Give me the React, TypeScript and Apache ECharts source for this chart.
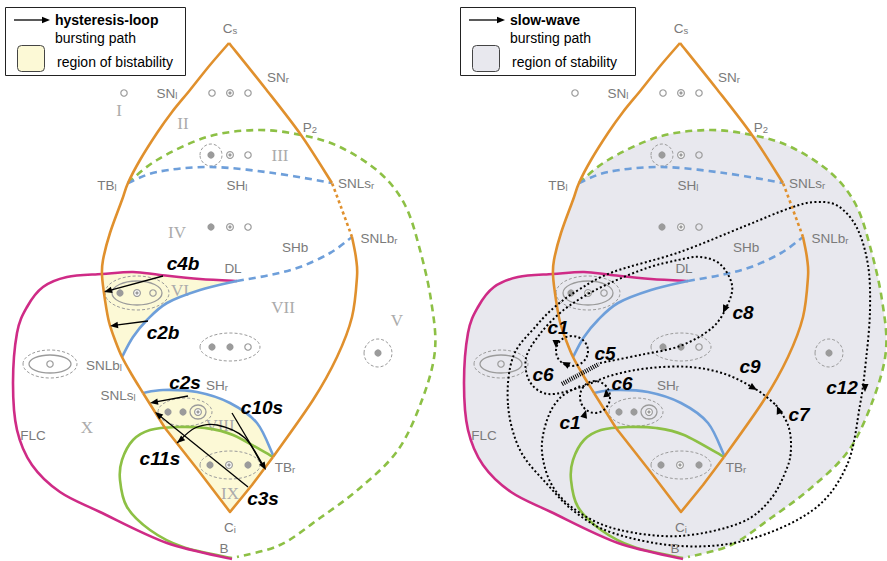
import React, { useEffect, useRef } from "react";
import * as echarts from "echarts";

type P = [number, number];

// ---------------- diagram data (left-panel units; right panel reuses them through a shifted axis)
// fold (SN) curve, left branch: cusp Cs -> TBl -> SNLbl -> SNLsl
const snLeft: P[] = [[229,43],[210,65],[190,90],[172,112],[157,133],[140,160],[128,183],[122,200],[110,233],[103,260],[102,275],[105,300],[109,322],[115,340],[122,357],[132,375],[143,393]];
const SN_TBL = 6, SN_JOIN = 10, SN_SNLB = 14;
const snBottomV: P[] = [[143,393],[165,428],[198,470],[230,512],[252,485],[273,457]];
const snRight: P[] = [[273,457],[313,400],[337,357],[352,317],[357,277],[356,258],[352,237]];
const snRightUnstable: P[] = [[352,237],[341,207],[332,183]];
const snRightUpper: P[] = [[332,183],[301,135],[265,88],[229,43]];
const homoclinicDashed: P[] = [[128,183],[157,160],[207,137],[257,130],[301,135],[340,147],[380,173],[405,205],[420,250],[431,300],[435,350],[422,400],[398,450],[360,488],[320,518],[280,545],[237,557]];
const homoclinicSolid: P[] = [[273,457],[233,435],[205,428],[177,427],[150,430],[133,440],[122,460],[120,480],[127,507],[150,530],[183,547],[232,558]];
const shLeftDashed: P[] = [[128,183],[157,172],[210,167],[273,173],[332,183]];
const shBigDashed: P[] = [[237,281],[270,275],[300,267],[330,253],[352,237]];
const shBigSolid: P[] = [[237,281],[200,290],[167,303],[147,320],[133,337],[122,357]];
const shRightSolid: P[] = [[143,393],[163,390],[197,392],[230,403],[257,423],[273,455]];
const flcCurve: P[] = [[237,281],[200,279],[160,275],[133,272],[102,274],[67,277],[43,287],[27,307],[17,333],[13,383],[17,430],[32,465],[60,492],[100,512],[167,543],[232,559]];
const FLC_JOIN = 4;

// region markers
const filledDots: P[] = [[211,155],[211,227],[120,293],[212,347],[230,347],[378,353],[168,412],[183,412],[210,465],[248,465]];
const halfDots: P[] = [[230,93],[230,155],[230,227],[137,293],[198,412],[229,465]];
const openDots: P[] = [[124,93],[212,93],[248,93],[248,155],[248,227],[153,293],[248,347],[50,364]];
const solidEllipses: [number, number, number, number][] = [[137,293,25,12],[50,364,21,9],[198,412,8,7]];
const dashedEllipses: [number, number, number, number][] = [[211,155,11,11],[137,293,32,17],[230,347,30,14],[378,353,14,14],[50,364,27,14],[185,412,27,14],[230,465,30,14]];

// point / curve labels: [main, subscript, x, y]
const sharedLabels: [string, string, number, number][] = [
  ["C","s",230,28],["SN","r",278,77],["SN","l",167,93],["P","2",310,127],["TB","l",107,185],["SH","l",237,185],
  ["SNLs","r",356,183],["SNLb","r",379,238],["SHb","",295,247],["DL","",233,268],["SH","r",217,385],["TB","r",285,467],
  ["C","i",230,527],["B","",224,548],["FLC","",33,435]
];
const leftOnlyLabels: [string, string, number, number][] = [["SNLb","l",104,365],["SNLs","l",118,395]];
const romanLabels: [string, number, number][] = [["I",119,110],["II",183,123],["III",280,155],["IV",177,232],["V",397,320],["VI",180,290],["VII",283,307],["VIII",220,425],["IX",230,493],["X",87,427]];

// hysteresis-loop bursting paths (left panel)
const hysteresisArrows: P[][] = [
  [[163,276],[104,292]],
  [[148,321],[110,326]],
  [[188,396],[150,403]],
  [[232,413],[266,470]],
  [[248,487],[155,412]],
  [[263,467],[245,438],[217,425],[195,428],[177,443]]
];
const hysteresisLabels: [string, number, number][] = [["c4b",183,263],["c2b",163,332],["c2s",185,382],["c10s",262,407],["c11s",160,458],["c3s",263,498]];

// slow-wave bursting paths (right panel, page units)
const c12Loop: P[] = [[508,405],[513,357],[537,325],[557,305],[580,289],[613,272],[680,252],[745,226],[790,208],[815,202],[838,206],[857,228],[868,265],[870,310],[866,360],[860,405],[847,465],[813,510],[747,540],[680,546],[613,533],[575,512],[547,484],[520,450]];
const c8c6c9Path: P[] = [[600,363],[640,355],[680,346],[712,328],[727,306],[732,285],[720,264],[700,257],[678,260],[647,268],[610,283],[583,297],[560,313],[540,334],[526,358],[530,382],[548,394],[578,388],[613,375],[650,368],[690,367],[725,374],[757,390],[776,405]];
const c7Path: P[] = [[776,405],[788,425],[791,447],[787,468],[770,500],[740,523],[680,536],[620,530],[580,513],[553,487],[542,452],[547,420],[560,398],[580,386]];
const c1Loops: [number, number, number, number][] = [[572,351,16,15],[595,397,15,16]];
const c5Hatch: P[] = [[562,384],[599,364]];
const slowWaveHeads: [number, number, number, number][] = [[723,313,-0.45,1],[757,390,1,0.6],[777,406,-0.4,-1],[865,392,0,1],[556,348,0,1],[562,362,-1,-0.5],[586,410,0.3,-1],[606,389,-0.1,-1]];
const slowWaveLabels: [string, number, number][] = [["c1",558,327],["c5",605,353],["c6",543,374],["c6",622,383],["c8",743,312],["c9",750,366],["c12",842,387],["c7",799,414],["c1",570,422]];

// ---------------- styles
const ORANGE = "#E0902D", MAGENTA = "#CF2B86", GREEN = "#8DC045", BLUE = "#6E9FDA";
const YELLOW = "#FCF9D6", GREYFILL = "#E8E8EE", LABEL = "#7a7a7a", ROMAN = "#ababab", MARK = "#9b9b9b";
const SANS = "'Liberation Sans', Arial, Helvetica, sans-serif";
const SERIF = "'Liberation Serif', 'Times New Roman', serif";

type Curve = { pts: P[]; color: string; width: number; dash?: number[]; straight?: boolean };
const curveLayer: Curve[] = [
  { pts: homoclinicDashed, color: GREEN, width: 2.6, dash: [7, 5] },
  { pts: homoclinicSolid, color: GREEN, width: 2.6 },
  { pts: flcCurve, color: MAGENTA, width: 2.6 },
  { pts: shLeftDashed, color: BLUE, width: 2.6, dash: [7, 5] },
  { pts: shBigDashed, color: BLUE, width: 2.6, dash: [7, 5] },
  { pts: shBigSolid, color: BLUE, width: 2.6 },
  { pts: shRightSolid, color: BLUE, width: 2.6 },
  { pts: snLeft, color: ORANGE, width: 2.6 },
  { pts: snBottomV, color: ORANGE, width: 2.6, straight: true },
  { pts: snRight, color: ORANGE, width: 2.6 },
  { pts: snRightUnstable, color: ORANGE, width: 2.6, dash: [3, 3] },
  { pts: snRightUpper, color: ORANGE, width: 2.6 },
];

// ---------------- path helpers
const f = (p: number[]) => p[0].toFixed(1) + " " + p[1].toFixed(1);
function seg(px: number[][], from: number, to: number): string {
  const n = px.length;
  const g = (i: number) => px[Math.max(0, Math.min(n - 1, i))];
  let d = "";
  const ctrl = (i: number) => {
    const p0 = g(i - 1), p1 = g(i), p2 = g(i + 1), p3 = g(i + 2);
    const c1 = [p1[0] + (p2[0] - p0[0]) / 6, p1[1] + (p2[1] - p0[1]) / 6];
    const c2 = [p2[0] - (p3[0] - p1[0]) / 6, p2[1] - (p3[1] - p1[1]) / 6];
    return [c1, c2];
  };
  if (to > from) {
    for (let i = from; i < to; i++) { const [c1, c2] = ctrl(i); d += " C" + f(c1) + " " + f(c2) + " " + f(g(i + 1)); }
  } else {
    for (let i = from; i > to; i--) { const [c1, c2] = ctrl(i - 1); d += " C" + f(c2) + " " + f(c1) + " " + f(g(i - 1)); }
  }
  return d;
}
function closedPath(px: number[][]): string {
  const n = px.length;
  let d = "M" + f(px[0]);
  for (let i = 0; i < n; i++) {
    const p0 = px[(i - 1 + n) % n], p1 = px[i], p2 = px[(i + 1) % n], p3 = px[(i + 2) % n];
    const c1 = [p1[0] + (p2[0] - p0[0]) / 6, p1[1] + (p2[1] - p0[1]) / 6];
    const c2 = [p2[0] - (p3[0] - p1[0]) / 6, p2[1] - (p3[1] - p1[1]) / 6];
    d += " C" + f(c1) + " " + f(c2) + " " + f(p2);
  }
  return d + " Z";
}
function head(tip: number[], dx: number, dy: number, len: number, hw: number): number[][] {
  const l = Math.hypot(dx, dy) || 1;
  const ux = dx / l, uy = dy / l;
  const bx = tip[0] - ux * len, by = tip[1] - uy * len;
  return [tip, [bx - uy * hw, by + ux * hw], [bx + uy * hw, by - ux * hw]];
}

function custom(name: string, count: number, axis: number, z: number, render: (i: number, api: any) => any) {
  return {
    type: "custom", name, xAxisIndex: axis, yAxisIndex: axis, z, silent: true, clip: false,
    data: curveIndex(count), renderItem: (params: any, api: any) => render(params.dataIndex, api),
  };
}
function curveIndex(count: number) { const a: number[][] = []; for (let i = 0; i < count; i++) a.push([i, 0]); return a; }

function subLabel(main: string, sub: string, x: number, y: number) {
  return {
    type: "text", x, y,
    style: {
      text: sub ? `{m|${main}}{s|${sub}}` : `{m|${main}}`,
      rich: {
        m: { fontSize: 13.5, fontFamily: SANS, fill: LABEL },
        s: { fontSize: 9.5, fontFamily: SANS, fill: LABEL, verticalAlign: "bottom", padding: [4, 0, 0, 0] },
      },
      align: "center", verticalAlign: "middle",
    },
  };
}

function buildOption(): any {
  const series: any[] = [];
  // fills
  series.push(custom("bistability", 2, 0, 1, (i, api) => {
    const c = (p: P) => api.coord(p);
    let d: string;
    if (i === 0) {
      const A = flcCurve.map(c), B = shBigSolid.map(c), S = snLeft.map(c);
      d = "M" + f(A[FLC_JOIN]) + seg(A, FLC_JOIN, 0) + " L" + f(B[0]) + seg(B, 0, B.length - 1) + " L" + f(S[SN_SNLB]) + seg(S, SN_SNLB, SN_JOIN) + " Z";
    } else {
      const H = shRightSolid.map(c), V = snBottomV.map(c);
      d = "M" + f(H[0]) + seg(H, 0, H.length - 1);
      for (let k = V.length - 1; k >= 0; k--) d += " L" + f(V[k]);
      d += " Z";
    }
    return { type: "path", shape: { pathData: d }, style: { fill: YELLOW, stroke: "none" } };
  }));
  series.push(custom("stability", 1, 1, 1, (_i, api) => {
    const c = (p: P) => api.coord(p);
    const A = flcCurve.map(c), S = snLeft.map(c), G = homoclinicDashed.map(c);
    const d = "M" + f(S[SN_TBL]) + seg(S, SN_TBL, SN_JOIN) + " L" + f(A[FLC_JOIN]) + seg(A, FLC_JOIN, A.length - 1) +
      " L" + f(G[G.length - 1]) + seg(G, G.length - 1, 0) + " Z";
    return { type: "path", shape: { pathData: d }, style: { fill: GREYFILL, stroke: "none" } };
  }));

  // markers (both panels)
  const markerItems: { k: string; v: number[] }[] = [
    ...dashedEllipses.map((v) => ({ k: "de", v })),
    ...solidEllipses.map((v) => ({ k: "se", v })),
    ...filledDots.map((v) => ({ k: "fd", v })),
    ...halfDots.map((v) => ({ k: "hd", v })),
    ...openDots.map((v) => ({ k: "od", v })),
  ];
  const renderMarker = (i: number, api: any) => {
    const m = markerItems[i];
    const c = api.coord([m.v[0], m.v[1]]);
    if (m.k === "de" || m.k === "se") {
      const s = api.size([m.v[2], m.v[3]]);
      return { type: "ellipse", shape: { cx: c[0], cy: c[1], rx: s[0], ry: s[1] },
        style: { fill: "none", stroke: MARK, lineWidth: m.k === "de" ? 1 : 1.3, lineDash: m.k === "de" ? [3, 2] : null } };
    }
    if (m.k === "fd") return { type: "circle", shape: { cx: c[0], cy: c[1], r: 3.6 }, style: { fill: MARK } };
    if (m.k === "od") return { type: "circle", shape: { cx: c[0], cy: c[1], r: 3.2 }, style: { fill: "none", stroke: MARK, lineWidth: 1.2 } };
    return { type: "group", children: [
      { type: "circle", shape: { cx: c[0], cy: c[1], r: 3.4 }, style: { fill: "#fff", stroke: MARK, lineWidth: 1.2 } },
      { type: "circle", shape: { cx: c[0], cy: c[1], r: 1.6 }, style: { fill: MARK } },
    ] };
  };
  series.push(custom("markersL", markerItems.length, 0, 2, renderMarker));
  series.push(custom("markersR", markerItems.length, 1, 2, renderMarker));

  // curves (both panels)
  const renderCurve = (i: number, api: any) => {
    const cv = curveLayer[i];
    const px = cv.pts.map((p) => api.coord(p));
    let d = "M" + f(px[0]);
    if (cv.straight) for (let k = 1; k < px.length; k++) d += " L" + f(px[k]);
    else d += seg(px, 0, px.length - 1);
    return { type: "path", shape: { pathData: d }, style: { fill: "none", stroke: cv.color, lineWidth: cv.width, lineDash: cv.dash || null, lineJoin: "round" } };
  };
  series.push(custom("curvesL", curveLayer.length, 0, 3, renderCurve));
  series.push(custom("curvesR", curveLayer.length, 1, 3, renderCurve));

  // labels
  const renderShared = (i: number, api: any) => { const l = sharedLabels[i]; const c = api.coord([l[2], l[3]]); return subLabel(l[0], l[1], c[0], c[1]); };
  series.push(custom("labelsL", sharedLabels.length, 0, 5, renderShared));
  series.push(custom("labelsR", sharedLabels.length, 1, 5, renderShared));
  series.push(custom("labelsLeftOnly", leftOnlyLabels.length, 0, 5, (i, api) => { const l = leftOnlyLabels[i]; const c = api.coord([l[2], l[3]]); return subLabel(l[0], l[1], c[0], c[1]); }));
  series.push(custom("roman", romanLabels.length, 0, 2, (i, api) => {
    const l = romanLabels[i]; const c = api.coord([l[1], l[2]]);
    return { type: "text", x: c[0], y: c[1], style: { text: l[0], font: `17px ${SERIF}`, fill: ROMAN, align: "center", verticalAlign: "middle" } };
  }));

  // hysteresis arrows
  series.push(custom("hysteresis", hysteresisArrows.length, 0, 4, (i, api) => {
    const px = hysteresisArrows[i].map((p) => api.coord(p));
    const n = px.length;
    const tip = px[n - 1], prev = px[n - 2];
    const dx = tip[0] - prev[0], dy = tip[1] - prev[1];
    const l = Math.hypot(dx, dy);
    let d = "M" + f(px[0]);
    if (n === 2) d += " L" + f([tip[0] - (dx / l) * 6, tip[1] - (dy / l) * 6]);
    else d += seg(px, 0, n - 1);
    return { type: "group", children: [
      { type: "path", shape: { pathData: d }, style: { fill: "none", stroke: "#000", lineWidth: 1.3 } },
      { type: "polygon", shape: { points: head(tip, dx, dy, 8, 3.2) }, style: { fill: "#000" } },
    ] };
  }));
  series.push(custom("hysteresisLabels", hysteresisLabels.length, 0, 6, (i, api) => {
    const l = hysteresisLabels[i]; const c = api.coord([l[1], l[2]]);
    return { type: "text", x: c[0], y: c[1], style: { text: l[0], font: `italic bold 19px ${SANS}`, fill: "#000", align: "center", verticalAlign: "middle" } };
  }));

  // slow-wave paths
  const dotted = { fill: "none", stroke: "#000", lineWidth: 2, lineDash: [2, 2.4] };
  const swPaths = [c12Loop, c8c6c9Path, c7Path];
  series.push(custom("slowWave", swPaths.length, 0, 4, (i, api) => {
    const px = swPaths[i].map((p) => api.coord(p));
    const d = i === 0 ? closedPath(px) : "M" + f(px[0]) + seg(px, 0, px.length - 1);
    return { type: "path", shape: { pathData: d }, style: dotted };
  }));
  series.push(custom("slowWaveLoops", c1Loops.length, 0, 4, (i, api) => {
    const e = c1Loops[i]; const c = api.coord([e[0], e[1]]); const s = api.size([e[2], e[3]]);
    return { type: "ellipse", shape: { cx: c[0], cy: c[1], rx: s[0], ry: s[1] }, style: dotted };
  }));
  series.push(custom("slowWaveHatch", 1, 0, 4, (_i, api) => {
    const a = api.coord(c5Hatch[0]), b = api.coord(c5Hatch[1]);
    return { type: "line", shape: { x1: a[0], y1: a[1], x2: b[0], y2: b[1] }, style: { stroke: "#000", lineWidth: 4.5, lineDash: [1, 1.2] } };
  }));
  series.push(custom("slowWaveHeads", slowWaveHeads.length, 0, 5, (i, api) => {
    const h = slowWaveHeads[i]; const c = api.coord([h[0], h[1]]);
    return { type: "polygon", shape: { points: head(c, h[2], h[3], 8, 3.5) }, style: { fill: "#000" } };
  }));
  series.push(custom("slowWaveLabels", slowWaveLabels.length, 0, 6, (i, api) => {
    const l = slowWaveLabels[i]; const c = api.coord([l[1], l[2]]);
    return { type: "text", x: c[0], y: c[1], style: { text: l[0], font: `italic bold 19px ${SANS}`, fill: "#000", align: "center", verticalAlign: "middle" } };
  }));

  const legend = (x0: number, w: number, title: string, region: string, fill: string) => [
    { type: "rect", shape: { x: x0 + 0.5, y: 7.5, width: w, height: 68 }, style: { fill: "#fff", stroke: "#222", lineWidth: 1 }, z: 20 },
    { type: "line", shape: { x1: x0 + 9, y1: 20, x2: x0 + 38, y2: 20 }, style: { stroke: "#000", lineWidth: 1.3 }, z: 21 },
    { type: "polygon", shape: { points: [[x0 + 45, 20], [x0 + 37, 16.8], [x0 + 37, 23.2]] }, style: { fill: "#000" }, z: 21 },
    { type: "text", style: { x: x0 + 50, y: 20, text: title, font: `bold 14px ${SANS}`, fill: "#000", verticalAlign: "middle" }, z: 21 },
    { type: "text", style: { x: x0 + 50, y: 38, text: "bursting path", font: `14px ${SANS}`, fill: "#000", verticalAlign: "middle" }, z: 21 },
    { type: "rect", shape: { x: x0 + 12.5, y: 45.5, width: 27, height: 26, r: 4 }, style: { fill, stroke: "#444", lineWidth: 1 }, z: 21 },
    { type: "text", style: { x: x0 + 52, y: 62, text: region, font: `14px ${SANS}`, fill: "#000", verticalAlign: "middle" }, z: 21 },
  ];

  return {
    animation: false,
    backgroundColor: "#fff",
    grid: [{ left: 0, right: 0, top: 0, bottom: 0 }, { left: 0, right: 0, top: 0, bottom: 0 }],
    xAxis: [
      { type: "value", min: 0, max: 887, show: false, gridIndex: 0 },
      { type: "value", min: -451, max: 436, show: false, gridIndex: 1 },
    ],
    yAxis: [
      { type: "value", min: 0, max: 561, inverse: true, show: false, gridIndex: 0 },
      { type: "value", min: 0, max: 561, inverse: true, show: false, gridIndex: 1 },
    ],
    graphic: [
      ...legend(5, 180, "hysteresis-loop", "region of bistability", YELLOW),
      ...legend(460, 175, "slow-wave", "region of stability", GREYFILL),
    ],
    series,
  };
}

export default function App() {
  const ref = useRef<HTMLDivElement>(null);
  useEffect(() => {
    const chart = echarts.init(ref.current!, null, { renderer: "svg" });
    chart.setOption(buildOption());
    return () => chart.dispose();
  }, []);
  return <div ref={ref} style={{ position: "fixed", left: 0, top: 0, width: 887, height: 561, background: "#fff" }} />;
}
